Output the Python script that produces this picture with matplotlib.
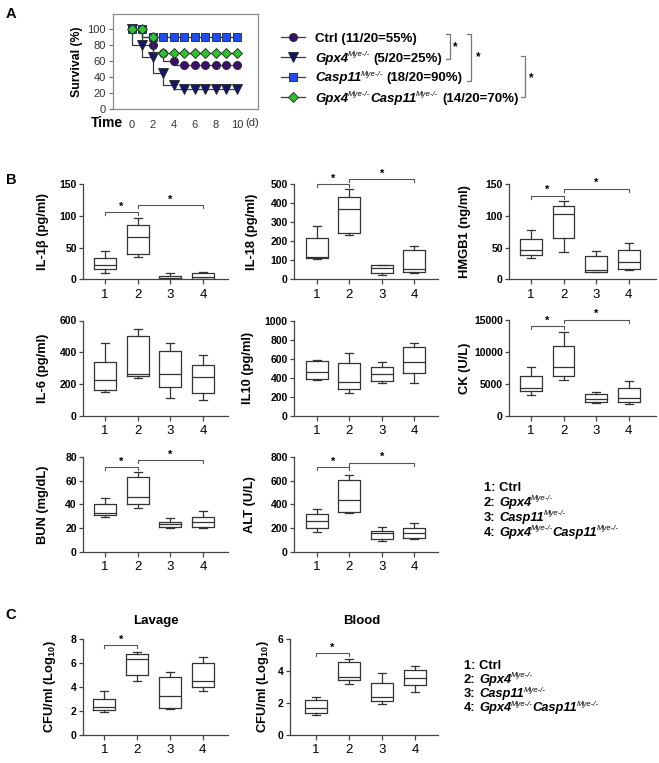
import matplotlib
matplotlib.use('Agg')
import matplotlib.pyplot as plt

plt.rcParams['font.family'] = ['Liberation Sans', 'DejaVu Sans']
plt.rcParams['mathtext.fontset'] = 'custom'
plt.rcParams['mathtext.rm'] = 'Liberation Sans:bold'
plt.rcParams['mathtext.it'] = 'Liberation Sans:italic:bold'
plt.rcParams['mathtext.bf'] = 'Liberation Sans:bold'

# ---------------- Panel A data ----------------
DAYS = [0, 1, 2, 3, 4, 5, 6, 7, 8, 9, 10]
SURV_CTRL = [100, 100, 80, 70, 60, 55, 55, 55, 55, 55, 55]
SURV_GPX4 = [100, 80, 65, 45, 30, 25, 25, 25, 25, 25, 25]
SURV_CASP11 = [100, 100, 90, 90, 90, 90, 90, 90, 90, 90, 90]
SURV_DKO = [100, 100, 90, 70, 70, 70, 70, 70, 70, 70, 70]
SUP = 'Mye-/-'
# label pieces: (text, kind) with kind 'b' bold, 'it' bold italic, 'sup' superscript
SURV_LABELS = [
    [('Ctrl (11/20=55%)', 'b')],
    [('Gpx4', 'it'), (SUP, 'sup'), ('(5/20=25%)', 'b')],
    [('Casp11', 'it'), (SUP, 'sup'), ('(18/20=90%)', 'b')],
    [('Gpx4', 'it'), (SUP, 'sup'), ('Casp11', 'it'), (SUP, 'sup'), ('(14/20=70%)', 'b')],
]
SURV_COLORS = ['#3c0f6e', '#15166b', '#1f4ff2', '#2fc22f']
SURV_MARKERS = ['o', 'v', 's', 'D']
SURV_MSIZE = [5.8, 6.5, 5.5, 5.2]

# ---------------- Panel B/C data (box stats) ----------------
GROUPS = ['1', '2', '3', '4']
GROUP_LABELS = [
    [('1: Ctrl', 'b')],
    [('2:', 'b'), ('Gpx4', 'it'), (SUP, 'sup')],
    [('3:', 'b'), ('Casp11', 'it'), (SUP, 'sup')],
    [('4:', 'b'), ('Gpx4', 'it'), (SUP, 'sup'), ('Casp11', 'it'), (SUP, 'sup')],
]

IL1B_LO = [10, 35, 0, 0]
IL1B_Q1 = [16, 40, 0.5, 1]
IL1B_MED = [23, 67, 2, 3]
IL1B_Q3 = [34, 85, 6, 10]
IL1B_HI = [44, 97, 10.5, 12]

IL18_LO = [108, 233, 21, 32]
IL18_Q1 = [114, 242, 32, 37]
IL18_MED = [120, 368, 61, 53]
IL18_Q3 = [219, 435, 74, 153]
IL18_HI = [279, 477, 76, 177]

HMGB1_LO = [34, 43, 11, 14]
HMGB1_Q1 = [38, 66, 12, 16]
HMGB1_MED = [47, 103, 14, 27]
HMGB1_Q3 = [64, 116, 37, 47]
HMGB1_HI = [78, 123, 45, 58]

IL6_LO = [147, 234, 109, 97]
IL6_Q1 = [164, 247, 181, 139]
IL6_MED = [225, 265, 259, 242]
IL6_Q3 = [341, 503, 408, 316]
IL6_HI = [455, 545, 455, 379]

IL10_LO = [373, 236, 347, 347]
IL10_Q1 = [386, 284, 368, 453]
IL10_MED = [457, 358, 439, 568]
IL10_Q3 = [579, 552, 509, 720]
IL10_HI = [590, 657, 568, 768]

CK_LO = [3300, 5650, 1950, 1790]
CK_Q1 = [3925, 6190, 2200, 2100]
CK_MED = [4400, 7600, 2570, 2830]
CK_Q3 = [6230, 11000, 3450, 4400]
CK_HI = [7700, 13190, 3770, 5500]

BUN_LO = [29, 37, 20.4, 20.2]
BUN_Q1 = [30.8, 40.3, 21.3, 21]
BUN_MED = [33, 46.4, 23.2, 25]
BUN_Q3 = [40, 63, 25.5, 29.7]
BUN_HI = [45, 67, 28.3, 34.7]

ALT_LO = [165, 325, 92, 107]
ALT_Q1 = [199, 339, 107, 120]
ALT_MED = [260, 437, 157, 162]
ALT_Q3 = [319, 602, 176, 204]
ALT_HI = [359, 647, 212, 246]

LAV_LO = [1.92, 4.47, 2.12, 3.61]
LAV_Q1 = [2.03, 4.97, 2.25, 4.0]
LAV_MED = [2.28, 6.3, 3.22, 4.5]
LAV_Q3 = [3.0, 6.7, 4.78, 6.0]
LAV_HI = [3.67, 6.87, 5.2, 6.5]

BLD_LO = [1.21, 3.21, 1.92, 2.69]
BLD_Q1 = [1.34, 3.42, 2.12, 3.15]
BLD_MED = [1.71, 3.63, 2.34, 3.59]
BLD_Q3 = [2.21, 4.6, 3.27, 4.08]
BLD_HI = [2.38, 4.77, 3.9, 4.29]

SIG_IL1B = [(1, 2, 106), (2, 4, 117)]
SIG_IL18 = [(1, 2, 500), (2, 4, 526)]
SIG_HMGB1 = [(1, 2, 132), (2, 4, 143)]
SIG_CK = [(1, 2, 14060), (2, 4, 15100)]
SIG_BUN = [(1, 2, 71.4), (2, 4, 77)]
SIG_ALT = [(1, 2, 714), (2, 4, 750)]
SIG_LAV = [(1, 2, 7.47)]
SIG_BLD = [(1, 2, 5.15)]

W, H = 659, 763
fig = plt.figure(figsize=(W / 100, H / 100), dpi=100)
DARK = '#333333'
SPINE = '#444444'


def px_axes(left, top, right, bottom):
    return fig.add_axes([left / W, 1 - bottom / H, (right - left) / W, (bottom - top) / H])


# ---------------- Panel A ----------------
axA = px_axes(113, 14, 258, 109)
series = [SURV_CTRL, SURV_GPX4, SURV_CASP11, SURV_DKO]
for vals, c, m, ms in zip(series, SURV_COLORS, SURV_MARKERS, SURV_MSIZE):
    axA.plot(DAYS, vals, drawstyle='steps-pre', color='#3a3a3a', lw=0.9,
             marker=m, ms=ms, mfc=c, mec='#222222', mew=0.6, zorder=3)
axA.set_xlim(-1.8, 12)
axA.set_ylim(0, 119)
axA.set_xticks([0, 2, 4, 6, 8, 10])
axA.set_yticks([0, 20, 40, 60, 80, 100])
for s in axA.spines.values():
    s.set_color('#8a8a8a')
    s.set_linewidth(0.9)
axA.tick_params(axis='x', length=0, pad=8, labelsize=8, labelcolor='#333333')
axA.tick_params(axis='y', length=3, width=0.8, color='#666666', pad=2, labelsize=8, labelcolor='#333333')
axA.set_ylabel('Survival (%)', fontsize=8.8, fontweight='bold', va='center')
axA.yaxis.set_label_coords(-36 / 145, 0.5)

# ---------------- Panels B and C ----------------
panels = [
    ((83, 184.3, 228, 279.3), (0.33, 4.76), [0, 50, 100, 150], r'IL-1β (pg/ml)', -40,
     (IL1B_LO, IL1B_Q1, IL1B_MED, IL1B_Q3, IL1B_HI), SIG_IL1B),
    ((294, 184.3, 438, 279.3), (0.30, 4.73), [0, 100, 200, 300, 400, 500], 'IL-18 (pg/ml)', -42,
     (IL18_LO, IL18_Q1, IL18_MED, IL18_Q3, IL18_HI), SIG_IL18),
    ((509, 184.3, 656, 279.3), (0.325, 4.84), [0, 50, 100, 150], 'HMGB1 (ng/ml)', -44,
     (HMGB1_LO, HMGB1_Q1, HMGB1_MED, HMGB1_Q3, HMGB1_HI), SIG_HMGB1),
    ((83, 320.5, 228, 415.5), (0.33, 4.76), [0, 200, 400, 600], 'IL-6 (pg/ml)', -40,
     (IL6_LO, IL6_Q1, IL6_MED, IL6_Q3, IL6_HI), []),
    ((294, 320.7, 438, 415.7), (0.30, 4.73), [0, 200, 400, 600, 800, 1000], 'IL10 (pg/ml)', -46,
     (IL10_LO, IL10_Q1, IL10_MED, IL10_Q3, IL10_HI), []),
    ((509, 320.3, 656, 415.7), (0.325, 4.84), [0, 5000, 10000, 15000], 'CK (U/L)', -44,
     (CK_LO, CK_Q1, CK_MED, CK_Q3, CK_HI), SIG_CK),
    ((83, 456.7, 228, 552), (0.33, 4.76), [0, 20, 40, 60, 80], 'BUN (mg/dL)', -40,
     (BUN_LO, BUN_Q1, BUN_MED, BUN_Q3, BUN_HI), SIG_BUN),
    ((294, 456.7, 438, 552), (0.30, 4.73), [0, 200, 400, 600, 800], 'ALT (U/L)', -44,
     (ALT_LO, ALT_Q1, ALT_MED, ALT_Q3, ALT_HI), SIG_ALT),
    ((83, 638.7, 228, 734.7), (0.35, 4.77), [0, 2, 4, 6, 8], r'CFU/ml (Log$_{10}$)', -33,
     (LAV_LO, LAV_Q1, LAV_MED, LAV_Q3, LAV_HI), SIG_LAV),
    ((290, 639.3, 437.7, 734.7), (0.21, 4.69), [0, 2, 4, 6], r'CFU/ml (Log$_{10}$)', -27,
     (BLD_LO, BLD_Q1, BLD_MED, BLD_Q3, BLD_HI), SIG_BLD),
]

positions = [1, 2, 3, 4]
lineprops = dict(color=DARK, linewidth=0.9)
for rect, xl, yt, ylab, lab_dx, stats_lists, sigs in panels:
    ax = px_axes(*rect)
    lo, q1, med, q3, hi = stats_lists
    stats = [dict(whislo=lo[i], q1=q1[i], med=med[i], q3=q3[i], whishi=hi[i], label=GROUPS[i])
             for i in range(4)]
    ax.bxp(stats, positions=positions, widths=0.67, capwidths=0.25, showfliers=False,
           boxprops=lineprops, medianprops=lineprops, whiskerprops=lineprops, capprops=lineprops)
    ax.set_xlim(*xl)
    ax.set_ylim(yt[0], yt[-1])
    ax.set_yticks(yt)
    ax.set_yticklabels([str(v) for v in yt])
    for t in ax.get_yticklabels():
        t.set_fontweight('bold')
    ax.set_xticks(positions)
    ax.set_xticklabels(GROUPS)
    for side in ['top', 'right']:
        ax.spines[side].set_visible(False)
    for side in ['left', 'bottom']:
        ax.spines[side].set_color(SPINE)
        ax.spines[side].set_linewidth(0.9)
    ax.tick_params(axis='y', length=3, width=0.9, color=SPINE, pad=1.5, labelsize=7.5)
    ax.tick_params(axis='x', length=3.3, width=0.9, color=SPINE, pad=3.5, labelsize=9.5)
    ax.set_ylabel(ylab, fontsize=9.3, fontweight='bold', va='center')
    ax.yaxis.set_label_coords(lab_dx / (rect[2] - rect[0]), 0.5)
    drop = 0.03 * yt[-1]
    for x1, x2, y in sigs:
        ax.plot([x1, x1, x2, x2], [y - drop, y, y, y - drop], color='#555555', lw=0.8, clip_on=False)
        ax.annotate('*', ((x1 + x2) / 2, y), xytext=(0, 0.3), textcoords='offset points',
                    ha='center', va='bottom', fontsize=8, fontweight='bold', annotation_clip=False)

# ---------------- overlay: letters, legends, annotations ----------------
ov = fig.add_axes([0, 0, 1, 1])
ov.set_xlim(0, W)
ov.set_ylim(H, 0)
ov.axis('off')
renderer = fig.canvas.get_renderer()


def rich(x, yc, parts, size):
    """Draw a label made of pieces; yc is the visual centre of the capitals (pixels)."""
    base = yc + 0.358 * size * 1.389
    prev = None
    for txt, kind in parts:
        if prev is not None:
            if kind == 'sup':
                x += -0.4
            elif prev == 'sup' and kind == 'it':
                x += 0.0
            elif prev == 'it' and kind == 'it':
                x += 0.5
            else:
                x += 0.27 * size * 1.389
        if kind == 'sup':
            t = ov.text(x, base - 0.42 * size * 1.389, txt, fontsize=size * 0.6, fontstyle='italic',
                        fontweight='normal', ha='left', va='baseline')
        elif kind == 'it':
            t = ov.text(x, base, txt, fontsize=size, fontstyle='italic', fontweight='bold',
                        ha='left', va='baseline')
        else:
            t = ov.text(x, base, txt, fontsize=size, fontweight='bold', ha='left', va='baseline')
        x += t.get_window_extent(renderer).width
        prev = kind


for letter, (lx, ly) in zip(['A', 'B', 'C'], [(11, 14), (11, 180), (11, 615)]):
    ov.text(lx, ly, letter, fontsize=10.5, fontweight='bold', ha='center', va='center')

ov.text(107, 123, 'Time', fontsize=10, fontweight='bold', ha='center', va='center')
ov.text(245, 123, '(d)', fontsize=8, ha='left', va='center', color='#333333')

# Panel A legend
leg_rows = [37, 57, 76.5, 97]
for y, lab, c, m, ms in zip(leg_rows, SURV_LABELS, SURV_COLORS, SURV_MARKERS, SURV_MSIZE):
    ov.plot([281, 305], [y, y], color='#3a3a3a', lw=0.9)
    ov.plot([293], [y], marker=m, ms=ms, mfc=c, mec='#222222', mew=0.6)
    rich(315, y, lab, 9.5)

# Panel A significance brackets
for bx, y1, y2, sx, sy in [(450, 34, 59, 455, 47), (471, 34, 81, 478, 57), (525, 55.7, 97.3, 531, 78)]:
    ov.plot([bx - 4, bx, bx, bx - 4], [y1, y1, y2, y2], color='#777777', lw=0.9)
    ov.text(sx, sy, '*', fontsize=8.5, fontweight='bold', ha='center', va='center')

# Group legends
for rows, x0 in [([486, 501, 516, 531], 484), ([664, 678.3, 692.5, 706.7], 464)]:
    for y, lab in zip(rows, GROUP_LABELS):
        rich(x0, y, lab, 9.3)

# Panel C titles
ov.text(156, 621, 'Lavage', fontsize=9.5, fontweight='bold', ha='center', va='center')
ov.text(362, 621, 'Blood', fontsize=9.5, fontweight='bold', ha='center', va='center')

fig.savefig('out.png', dpi=100)
